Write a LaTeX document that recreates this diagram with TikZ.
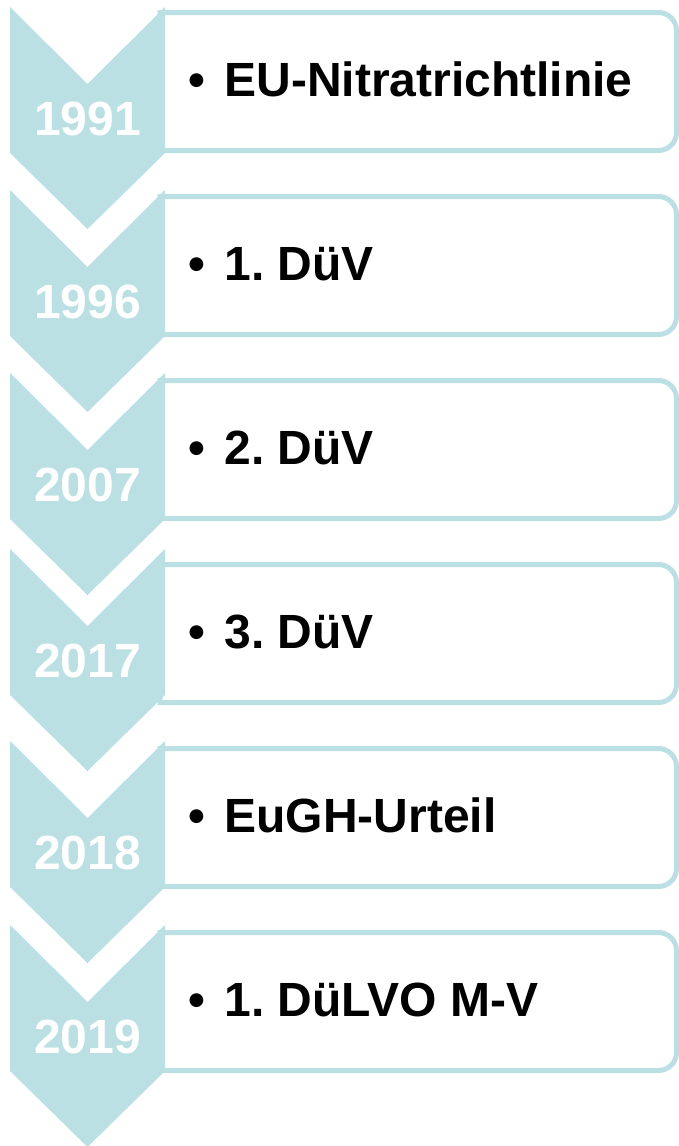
\documentclass[tikz,border=0pt]{standalone}
\usepackage{fontspec}
\setmainfont{Liberation Sans}
\frenchspacing
\definecolor{chev}{RGB}{187,224,227}
\tikzset{
  chevshape/.style={fill=chev, draw=none},
  boxshape/.style={draw=chev, line width=5pt, fill=white},
  itemtext/.style={anchor=base west, inner sep=0pt, font=\fontsize{48}{58}\selectfont\bfseries\frenchspacing, text=black},
  yeartext/.style={anchor=base, inner sep=0pt, font=\fontsize{48}{58}\selectfont\bfseries, text=white}
}
\begin{document}
\begin{tikzpicture}[x=1pt,y=-1pt]
\useasboundingbox (0,0) rectangle (679,1146);
\foreach \T/\c/\yr/\txt [count=\i] in {
  10/7/1991/EU-Nitratrichtlinie,
  194/190/1996/1. DüV,
  378/373/2007/2. DüV,
  562/549/2017/3. DüV,
  746/741/2018/EuGH-Urteil,
  930/925/2019/1. DüLVO M-V}{
  \pgfmathsetmacro{\ta}{\T+2.5}
  \pgfmathsetmacro{\tb}{\T+140.5}
  \pgfmathsetmacro{\tc}{\T+86.5}
  \pgfmathsetmacro{\ca}{\c+77}
  \pgfmathsetmacro{\cb}{\c+146}
  \pgfmathsetmacro{\cc}{\c+222}
  \pgfmathsetmacro{\cy}{\c+128}
  \draw[boxshape] (160,\ta) [rounded corners=18pt] -- (676.5,\ta) -- (676.5,\tb) [sharp corners] -- (160,\tb) -- cycle;
  \fill[chevshape] (10,\c) -- (87.5,\ca) -- (165,\c) -- (165,\cb) -- (87.5,\cc) -- (10,\cb) -- cycle;
  \node[itemtext] (text\i) at (188,\tc) {•\hspace{19.5pt}\txt};
  \node[yeartext] (year\i) at (87.5,\cy) {\yr};
}
\end{tikzpicture}
\end{document}
